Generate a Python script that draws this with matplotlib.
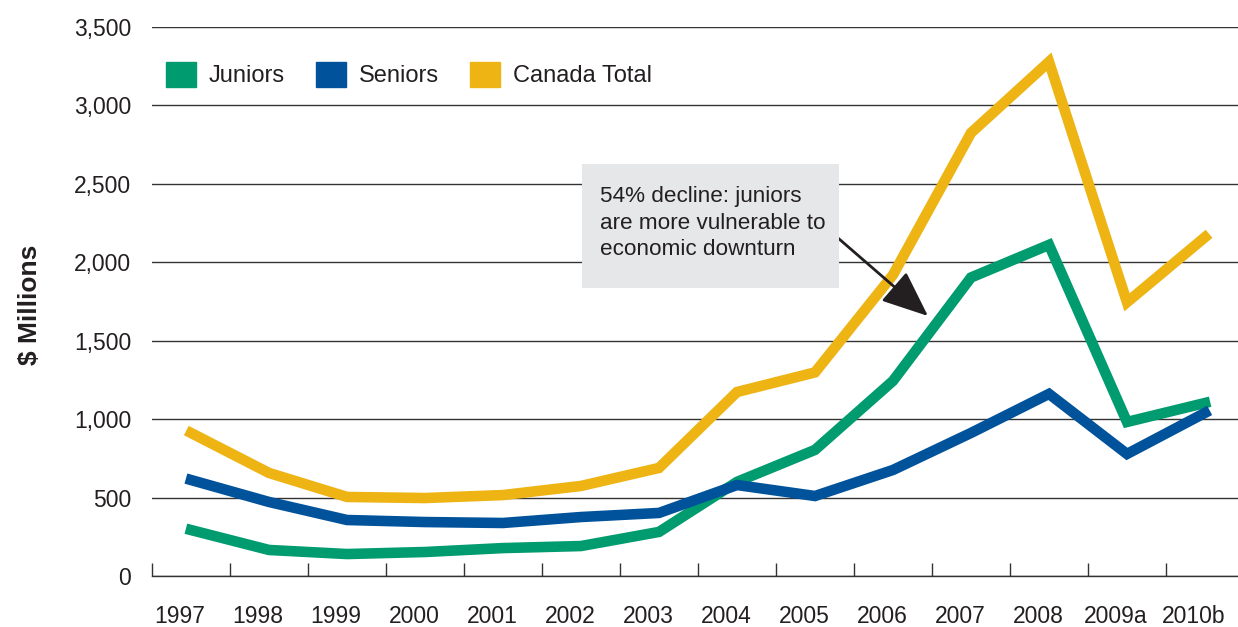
import matplotlib
matplotlib.use('Agg')
import matplotlib.pyplot as plt
import matplotlib.transforms as mtransforms
from matplotlib.patches import Patch, Rectangle

plt.rcParams['font.family'] = ['Liberation Sans', 'DejaVu Sans']

years = ['1997', '1998', '1999', '2000', '2001', '2002', '2003',
         '2004', '2005', '2006', '2007', '2008', '2009a', '2010b']
juniors = [293, 166, 140, 153, 178, 191, 281, 600, 804, 1244, 1903, 2111, 982, 1103]
seniors = [612, 472, 357, 344, 338, 376, 402, 580, 510, 676, 912, 1161, 778, 1040]
canada_total = [912, 657, 504, 497, 516, 574, 689, 1173, 1298, 1920, 2825, 3278, 1745, 2160]

green = '#009b6e'
blue = '#00529b'
yellow = '#edb414'
ink = '#231f20'

W, H = 1238, 627
fig = plt.figure(figsize=(W / 100, H / 100), dpi=100)
ax = fig.add_axes([152 / W, 1 - 576 / H, 1092 / W, (576 - 27) / H])

x = list(range(len(years)))
ax.plot(x, juniors, color=green, lw=7.6, solid_joinstyle='miter', zorder=3)
ax.plot(x, seniors, color=blue, lw=7.6, solid_joinstyle='miter', zorder=3)
ax.plot(x, canada_total, color=yellow, lw=7.6, solid_joinstyle='miter', zorder=3)

ax.set_xlim(-0.5, len(years) - 0.5)
ax.set_ylim(0, 3500)
ax.set_yticks(range(0, 3501, 500))
ax.set_yticklabels([f'{v:,}' for v in range(0, 3501, 500)])
ax.yaxis.grid(True, color='#333333', lw=1.0)
ax.set_axisbelow(True)

# category boundaries carry the tick marks, centres carry the labels
ax.set_xticks([i - 0.5 for i in range(len(years))])
ax.set_xticklabels([])
ax.set_xticks(x, labels=years, minor=True)
ax.tick_params(axis='x', which='major', direction='in', length=9.5, width=1.0, color='#333333')
ax.tick_params(axis='x', which='minor', length=0, pad=21, labelsize=16.5, labelcolor=ink)
ax.tick_params(axis='y', length=0, pad=15, labelsize=16.5, labelcolor=ink)
shift = mtransforms.ScaledTranslation(-11 / 100, 0, fig.dpi_scale_trans)
for lab in ax.get_xticklabels(minor=True):
    lab.set_transform(lab.get_transform() + shift)

for side in ['top', 'right', 'left']:
    ax.spines[side].set_visible(False)
ax.spines['bottom'].set_color('#333333')
ax.spines['bottom'].set_linewidth(1.0)

fig.text(30 / W, 1 - 305 / H, '$ Millions', rotation=90, ha='center', va='center',
         fontsize=19, fontweight='bold', color=ink)

handles = [Patch(color=green, label='Juniors'),
           Patch(color=blue, label='Seniors'),
           Patch(color=yellow, label='Canada Total')]
fig.legend(handles=handles, loc='upper left', bbox_to_anchor=(166 / W, 1 - 62 / H),
           ncol=3, frameon=False, fontsize=17, handlelength=1.27, handleheight=1.25,
           handletextpad=0.55, columnspacing=1.3, borderpad=0, borderaxespad=0,
           labelcolor=ink)

# callout box with arrow pointing at the junior series
fig.patches.append(Rectangle((582 / W, 1 - 288 / H), 257 / W, 124 / H,
                             transform=fig.transFigure, facecolor='#e6e7e8',
                             edgecolor='none', zorder=4))
fig.text(600 / W, 1 - 186 / H,
         '54% decline: juniors\nare more vulnerable to\neconomic downturn',
         ha='left', va='top', fontsize=16.2, color=ink, linespacing=1.35, zorder=5)
ax.annotate('', xy=(928 / W, 1 - 316 / H), xycoords='figure fraction',
            xytext=(838 / W, 1 - 238 / H), textcoords='figure fraction',
            arrowprops=dict(arrowstyle='-|>,head_length=1.2,head_width=0.5',
                            mutation_scale=24, color=ink, lw=2, shrinkA=0, shrinkB=0),
            zorder=5)

fig.savefig('out.png', dpi=100)
